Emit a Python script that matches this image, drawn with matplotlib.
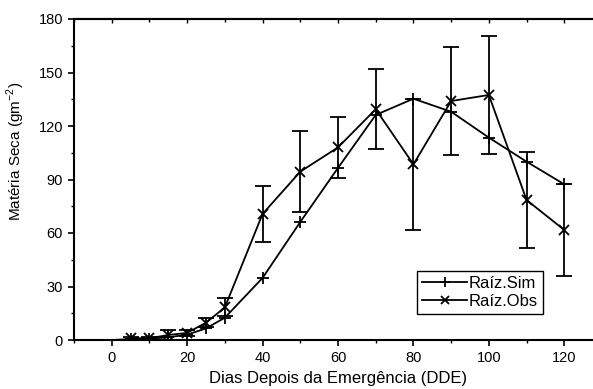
import matplotlib

matplotlib.use("Agg")
import matplotlib.pyplot as plt
from matplotlib.lines import Line2D
from matplotlib.ticker import MultipleLocator

plt.rcParams["font.family"] = ["Liberation Sans", "DejaVu Sans"]
plt.rcParams["mathtext.fontset"] = "custom"
plt.rcParams["mathtext.rm"] = "Liberation Sans"

# Raiz - simulated dry matter
dias_sim = [0, 5, 10, 15, 20, 25, 30, 40, 50, 60, 70, 80, 90, 100, 110, 120]
raiz_sim = [0, 0.5, 0.8, 1.5, 3.0, 6.5, 12.5, 34.8, 66.2, 96.5, 126.2, 135.3, 128.0, 113.5, 100.0, 87.3]

# Raiz - observed dry matter with standard deviation
dias_obs = [5, 10, 15, 20, 25, 30, 40, 50, 60, 70, 80, 90, 100, 110, 120]
raiz_obs = [1.0, 1.0, 2.8, 4.0, 9.7, 18.3, 70.7, 94.4, 108.0, 129.4, 98.5, 134.0, 137.4, 78.5, 61.7]
raiz_obs_dp = [0.8, 0.8, 2.8, 1.5, 2.5, 5.0, 15.7, 22.6, 17.0, 22.4, 36.7, 30.3, 33.0, 26.7, 25.6]

fig = plt.figure(figsize=(5.93, 3.89), dpi=100, facecolor="white")
ax = fig.add_axes([74 / 593, 1 - 340 / 389, 528 / 593, 321 / 389])

lw = 1.3
ax.plot(dias_sim, raiz_sim, color="black", lw=lw, marker="+", ms=8, mew=1.3,
        markevery=list(range(1, len(dias_sim))))
ax.errorbar(dias_obs, raiz_obs, yerr=raiz_obs_dp, color="black", lw=lw,
            marker="x", ms=7, mew=1.3, capsize=6, capthick=lw, elinewidth=lw)

ax.set_xlim(-10, 130)
ax.set_ylim(0, 180)
ax.xaxis.set_major_locator(MultipleLocator(20))
ax.xaxis.set_minor_locator(MultipleLocator(10))
ax.yaxis.set_major_locator(MultipleLocator(30))
ax.yaxis.set_minor_locator(MultipleLocator(15))

for side in ("left", "bottom", "top"):
    ax.spines[side].set_linewidth(1.5)
ax.spines["right"].set_visible(False)

ax.tick_params(axis="both", which="major", direction="out", length=4, width=1.2,
               labelsize=10.5, pad=4)
ax.tick_params(axis="both", which="minor", direction="out", length=2.5, width=1.0)

# top axis: inward ticks only, no labels
top = ax.secondary_xaxis("top")
top.xaxis.set_major_locator(MultipleLocator(20))
top.xaxis.set_minor_locator(MultipleLocator(10))
top.tick_params(which="major", direction="in", length=3, width=1.0, labeltop=False)
top.tick_params(which="minor", direction="in", length=2, width=1.0)
top.spines["top"].set_linewidth(1.5)

ax.set_xlabel("Dias Depois da Emergência (DDE)", fontsize=12, labelpad=4)
ax.set_ylabel("Matéria Seca (gm$^{\\mathrm{-2}}$)", fontsize=11)
ax.yaxis.set_label_coords(-47 / 528, (340 - 151) / 321)

handles = [
    Line2D([], [], color="black", lw=lw, marker="+", ms=7, mew=1.3),
    Line2D([], [], color="black", lw=lw, marker="x", ms=6, mew=1.3),
]
leg = ax.legend(handles, ["Raíz.Sim", "Raíz.Obs"], loc="lower left",
                bbox_to_anchor=((417 - 74) / 528, (340 - 314) / 321),
                fontsize=12, frameon=True, fancybox=False, borderpad=0.3,
                handlelength=2.7, handletextpad=0.1, labelspacing=0.2,
                borderaxespad=0)
leg.get_frame().set_edgecolor("black")
leg.get_frame().set_linewidth(1.0)
leg.get_frame().set_alpha(1.0)

fig.savefig("out.png", dpi=100, facecolor="white")
